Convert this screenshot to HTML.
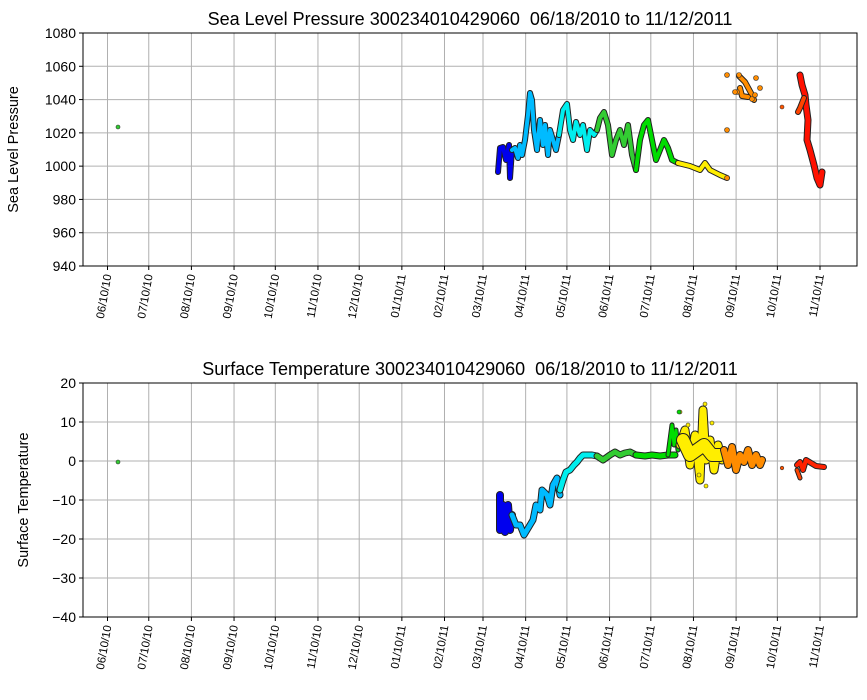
<!DOCTYPE html>
<html><head><meta charset="utf-8"><style>
body{margin:0;background:#fff;}
svg{display:block;font-family:"Liberation Sans","DejaVu Sans",sans-serif;}
</style></head><body>
<svg id="s" width="867" height="700" xmlns="http://www.w3.org/2000/svg"></svg>
<script>
const s=document.getElementById('s');let h='';
const days=[0,30,61,92,122,153,183,214,245,273,304,334,365,395,426,457,487,518];
const labs=['06/10/10','07/10/10','08/10/10','09/10/10','10/10/10','11/10/10','12/10/10','01/10/11','02/10/11','03/10/11','04/10/11','05/10/11','06/10/11','07/10/11','08/10/11','09/10/11','10/10/11','11/10/11'];
const X=d=>107.5+d*(820-107.5)/518;
function axes(top,bot,yt,ylab,title,ypos){
  days.forEach(d=>{h+=`<line x1="${X(d)}" y1="${top}" x2="${X(d)}" y2="${bot}" stroke="#b0b0b0" stroke-width="1"/>`;});
  yt.forEach(t=>{h+=`<line x1="83" y1="${t[0]}" x2="857" y2="${t[0]}" stroke="#b0b0b0" stroke-width="1"/>`;
    h+=`<line x1="79" y1="${t[0]}" x2="83" y2="${t[0]}" stroke="#000"/>`;
    h+=`<text x="76" y="${t[0]+5}" font-size="14" text-anchor="end">${t[1]}</text>`;});
  days.forEach((d,i)=>{const x=X(d);h+=`<line x1="${x}" y1="${bot}" x2="${x}" y2="${bot+4}" stroke="#000"/>`;
    h+=`<text transform="translate(${x+4},${bot+9}) rotate(-80)" font-size="11.5" text-anchor="end">${labs[i]}</text>`;});
  h+=`<text transform="translate(${ypos},${(top+bot)/2}) rotate(-90)" font-size="14.5" text-anchor="middle">${ylab}</text>`;
  h+=`<text x="470" y="${top-8}" font-size="18" text-anchor="middle" style="white-space:pre">${title}</text>`;
}
function line(pts,col,w){const p=pts.map(a=>a.join(',')).join(' ');
  h+=`<polyline points="${p}" fill="none" stroke="#222" stroke-width="${w+2}" stroke-linejoin="round" stroke-linecap="round"/>`;
  h+=`<polyline points="${p}" fill="none" stroke="${col}" stroke-width="${w}" stroke-linejoin="round" stroke-linecap="round"/>`;}
function dot(x,y,c,r){h+=`<circle cx="${x}" cy="${y}" r="${r||2}" fill="${c}" stroke="#333" stroke-width="0.6"/>`;}
let yt=[];for(let v=1080;v>=940;v-=20)yt.push([33+(1080-v)*233/140,v]);
axes(33,266,yt,'Sea Level Pressure','Sea Level Pressure 300234010429060\u00a0\u00a006/18/2010 to 11/12/2011',18);
dot(118,127,'#33cc33');
line([[498,172],[500,148],[503,147],[506,160],[509,145],[510,178],[512,150]],'#0000ee',4);
line([[512,150],[515,148],[518,158],[520,145],[522,155],[525,140],[528,115],[530,93],[532,100],[534,130],[537,150],[540,120],[543,145],[545,125],[548,155],[550,130],[553,140],[556,150],[559,135]],'#00bbff',4);
line([[559,135],[563,110],[567,104],[570,130],[573,140],[576,122],[580,135],[583,125],[587,150],[590,130],[594,135],[597,130]],'#00eeee',4);
line([[597,130],[600,118],[604,112],[608,125],[612,155],[616,140],[620,130],[624,145],[628,125],[632,155],[636,170]],'#33cc33',4);
line([[636,170],[640,140],[644,125],[648,120],[652,140],[656,160],[660,150],[664,140],[668,148],[672,160],[678,163]],'#00dd00',4);
line([[678,163],[690,166],[700,170],[705,163],[710,170],[720,175],[727,178]],'#ffee00',4);
line([[739,76],[745,82],[751,93],[754,100]],'#ff8c00',4);
line([[740,88],[742,96],[748,97]],'#ff8c00',4);
[[727,75],[739,75],[737,92],[752,99],[756,78],[760,88],[727,130],[727,178],[755,95],[735,92]].forEach(p=>dot(p[0],p[1],'#ff8c00',2.5));
dot(782,107,'#ff5500',2);
line([[800,75],[802,85],[805,95],[806,105],[808,120],[807,140],[810,150],[814,165],[817,178],[820,185],[822,172]],'#ff1100',5);
line([[798,112],[800,108],[804,98]],'#ff4400',4);
yt=[];for(let v=20;v>=-40;v-=10)yt.push([383+(20-v)*234/60,v<0?'\u2212'+(-v):v]);
axes(383,617,yt,'Surface Temperature','Surface Temperature 300234010429060\u00a0\u00a006/18/2010 to 11/12/2011',28);
dot(118,462,'#33cc33');
line([[500,495],[500,530],[503,505],[505,532],[508,505],[510,530],[512,515]],'#0000ee',6);
line([[512,515],[516,525],[520,525],[524,535],[527,530],[533,520],[536,505],[540,510],[542,490],[547,495],[550,505],[553,485],[557,478],[560,495]],'#00bbff',5);
line([[560,490],[563,480],[566,472],[570,470],[574,465],[577,462],[580,458],[583,455],[588,455],[592,455],[597,456]],'#00eeee',5);
line([[597,456],[603,460],[610,455],[615,452],[620,455],[625,453],[630,452],[636,455]],'#33cc33',5);
line([[636,455],[645,456],[652,455],[660,456],[668,455],[675,455]],'#00dd00',5);
line([[668,455],[670,440],[672,425],[674,445],[676,430],[678,450]],'#00dd00',3);
line([[680,445],[685,430],[690,465],[695,435],[700,480],[703,410],[706,460],[710,440],[714,470],[718,445],[722,460]],'#ffee00',7);
line([[683,440],[690,455],[697,450],[704,445],[712,455],[720,455]],'#ffee00',12);
[[705,404],[680,412],[688,425],[712,423],[706,486],[699,475]].forEach(p=>dot(p[0],p[1],'#ffee00',2));
dot(679,412,'#00dd00',2);
line([[724,450],[728,465],[732,447],[736,470],[740,455],[744,462],[748,450],[752,465],[756,455],[760,465],[762,460]],'#ff8c00',6);
dot(782,468,'#ff5500',1.8);
line([[797,465],[800,462],[803,470],[806,460],[811,463],[816,466],[824,467]],'#ff2200',4);
line([[797,470],[800,478]],'#ff4400',3);
h+=`<rect x="83" y="33" width="774" height="233" fill="none" stroke="#000" stroke-width="1"/>`;
h+=`<rect x="83" y="383" width="774" height="234" fill="none" stroke="#000" stroke-width="1"/>`;
s.innerHTML=h;
</script>
</body></html>
